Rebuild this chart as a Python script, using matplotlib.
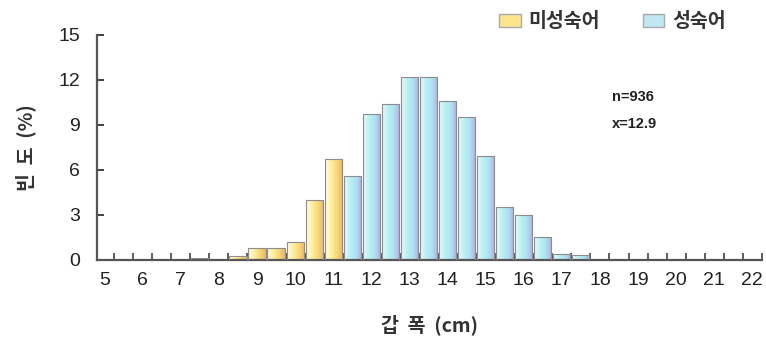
import numpy as np
import matplotlib
matplotlib.use('Agg')
import matplotlib.pyplot as plt
from matplotlib.colors import LinearSegmentedColormap
from matplotlib.patches import Patch

plt.rcParams['font.family'] = ['Liberation Sans', 'Noto Sans CJK KR', 'DejaVu Sans']

# carapace width bins (cm) and frequency (%)
immature_x = [7.5, 8.5, 9.0, 9.5, 10.0, 10.5, 11.0]
immature_y = [0.1, 0.25, 0.8, 0.8, 1.2, 4.0, 6.7]
mature_x = [11.5, 12.0, 12.5, 13.0, 13.5, 14.0, 14.5, 15.0, 15.5, 16.0, 16.5, 17.0, 17.5]
mature_y = [5.6, 9.7, 10.4, 12.2, 12.2, 10.6, 9.5, 6.9, 3.5, 3.0, 1.5, 0.4, 0.35]
x_labels = list(range(5, 23))
y_ticks = [0, 3, 6, 9, 12, 15]

yellow_cmap = LinearSegmentedColormap.from_list('yel', ['#fffcee', '#fff0a0', '#f8d878', '#ecb866'])
blue_cmap = LinearSegmentedColormap.from_list('blu', ['#f0f4fa', '#b6f2f2', '#b0e2f0', '#aeaeea'])

fig = plt.figure(figsize=(7.66, 3.46), dpi=100)
ax = fig.add_axes([0.1266, 0.2486, 0.868, 0.6503])

grad = np.linspace(0, 1, 64).reshape(1, -1)


def gradient_bars(xs, ys, cmap):
    bars = ax.bar(xs, ys, width=0.45, color='none', edgecolor='#8c8c8c', linewidth=0.8, zorder=3)
    for b in bars:
        bb = b.get_bbox()
        im = ax.imshow(grad, cmap=cmap, aspect='auto', extent=[bb.x0, bb.x1, bb.y0, bb.y1],
                       zorder=2, interpolation='bilinear')
        im.set_clip_path(b)
    return bars


gradient_bars(immature_x, immature_y, yellow_cmap)
gradient_bars(mature_x, mature_y, blue_cmap)

ax.set_xlim(4.8, 22.2)
ax.set_ylim(0, 15)
ax.set_aspect('auto')

ax.spines['top'].set_visible(False)
ax.spines['right'].set_visible(False)
for s in ['left', 'bottom']:
    ax.spines[s].set_color('#555555')
    ax.spines[s].set_linewidth(1.6)

ax.set_xticks(x_labels)
ax.set_xticklabels([str(v) for v in x_labels])
ax.set_xticks(np.arange(5.25, 22.3, 0.5), minor=True)
ax.tick_params(axis='x', which='major', length=0, pad=9, labelsize=14, colors='#222222')
ax.tick_params(axis='x', which='minor', direction='in', length=5, width=1.2, color='#444444')
ax.set_yticks(y_ticks)
ax.tick_params(axis='y', direction='in', length=5, width=1.2, pad=12, labelsize=14, colors='#222222')

ax.set_xlabel('갑  폭  (cm)', fontsize=14, fontweight='bold', family=['Noto Sans CJK KR'],
              labelpad=18, color='#333333')
ax.set_ylabel('빈  도  (%)', fontsize=14, fontweight='bold', family=['Noto Sans CJK KR', 'Liberation Sans'],
              labelpad=16, color='#333333')

ax.text(0.774, 0.705, 'n=936', transform=ax.transAxes, fontsize=10.5, fontweight='bold', color='#222222')
ax.text(0.774, 0.585, 'x=12.9', transform=ax.transAxes, fontsize=10.5, fontweight='bold', color='#222222')

handles = [Patch(facecolor='#fbe48c', edgecolor='#aaaaaa', label='미성숙어'),
           Patch(facecolor='#bfe8f2', edgecolor='#aaaaaa', label='성숙어')]
leg = fig.legend(handles=handles, loc='upper right', bbox_to_anchor=(0.97, 1.015), ncol=2, frameon=False,
                 prop={'family': 'Noto Sans CJK KR', 'size': 14, 'weight': 'bold'}, handlelength=1.1,
                 handleheight=0.6, handletextpad=0.4, columnspacing=2.2)
for t in leg.get_texts():
    t.set_color('#333333')

fig.savefig('out.png', dpi=100)
